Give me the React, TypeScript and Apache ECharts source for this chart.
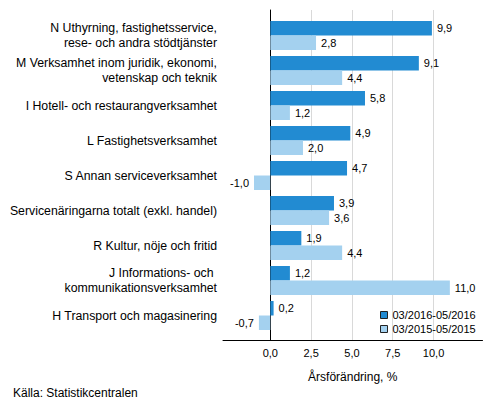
import { useEffect, useRef } from 'react';
import * as echarts from 'echarts';

const categories = [
  'N Uthyrning, fastighetsservice,\nrese- och andra stödtjänster',
  'M Verksamhet inom juridik, ekonomi,\nvetenskap och teknik',
  'I Hotell- och restaurangverksamhet',
  'L Fastighetsverksamhet',
  'S Annan serviceverksamhet',
  'Servicenäringarna totalt (exkl. handel)',
  'R Kultur, nöje och fritid',
  'J Informations- och \nkommunikationsverksamhet',
  'H Transport och magasinering',
];

const seriesNames = ['03/2016-05/2016', '03/2015-05/2015'];
const values2016 = [9.9, 9.1, 5.8, 4.9, 4.7, 3.9, 1.9, 1.2, 0.2];
const values2015 = [2.8, 4.4, 1.2, 2.0, -1.0, 3.6, 4.4, 11.0, -0.7];
const tickValues = [0, 2.5, 5, 7.5, 10];

const FONT = '"Liberation Sans", Arial, sans-serif';
const fmt = (v: number) => v.toFixed(1).replace('.', ',');

function barData(values: number[]) {
  return values.map(v => ({
    value: v,
    label: { position: v < 0 ? 'left' : 'right' }
  }));
}

export default function App() {
  const chartRef = useRef<HTMLDivElement>(null);

  useEffect(() => {
    if (!chartRef.current) return;
    const chart = echarts.init(chartRef.current, null, { renderer: 'svg' });

    const barLabel = {
      show: true,
      fontSize: 11,
      fontFamily: FONT,
      color: '#000',
      distance: 5,
      formatter: (p: any) => fmt(p.value)
    };

    chart.setOption({
      animation: false,
      textStyle: { fontFamily: FONT },
      title: {
        text: 'Källa: Statistikcentralen',
        left: 13,
        top: 387,
        padding: 0,
        textStyle: { fontSize: 12, fontWeight: 'normal', color: '#000', fontFamily: FONT }
      },
      legend: {
        orient: 'vertical',
        left: 380,
        top: 308,
        padding: 0,
        itemWidth: 7,
        itemHeight: 7,
        itemGap: 0,
        icon: 'rect',
        itemStyle: { borderColor: '#222', borderWidth: 1 },
        textStyle: { fontSize: 11, color: '#000', lineHeight: 14, fontFamily: FONT },
        data: seriesNames
      },
      grid: [
        { left: 223, width: 259.5, top: 18, height: 315 },
        { left: 223, width: 259.5, top: 10, height: 330.5 }
      ],
      xAxis: [
        {
          gridIndex: 0,
          type: 'value',
          min: -2.9,
          max: 13.0,
          show: false
        },
        {
          gridIndex: 1,
          type: 'value',
          min: -2.9,
          max: 13.0,
          name: 'Årsförändring, %',
          nameLocation: 'middle',
          nameGap: 30,
          nameTextStyle: { fontSize: 12, color: '#000', fontFamily: FONT },
          axisLine: { show: true, lineStyle: { color: '#000', width: 1 } },
          axisTick: { show: false, customValues: tickValues },
          axisLabel: {
            customValues: tickValues,
            fontSize: 11,
            color: '#000',
            margin: 7,
            formatter: (v: number) => fmt(v)
          },
          splitLine: { show: true, lineStyle: { color: '#d9d9d9', width: 1 } }
        }
      ],
      yAxis: [
        {
          gridIndex: 0,
          type: 'category',
          inverse: true,
          data: categories,
          axisLine: { show: false, onZero: false },
          axisTick: { show: false },
          axisLabel: {
            fontSize: 12.3,
            lineHeight: 15,
            color: '#000',
            margin: 6,
            align: 'right'
          }
        },
        {
          gridIndex: 1,
          type: 'category',
          data: [''],
          axisLine: { show: true, onZero: true, lineStyle: { color: '#000', width: 1 } },
          axisTick: { show: false },
          axisLabel: { show: false },
          splitLine: { show: false }
        }
      ],
      series: [
        {
          name: seriesNames[0],
          type: 'bar',
          xAxisIndex: 0,
          yAxisIndex: 0,
          data: barData(values2016),
          barGap: '0%',
          barCategoryGap: '17%',
          itemStyle: { color: '#228bd2' },
          label: barLabel
        },
        {
          name: seriesNames[1],
          type: 'bar',
          xAxisIndex: 0,
          yAxisIndex: 0,
          data: barData(values2015),
          barGap: '0%',
          barCategoryGap: '17%',
          itemStyle: { color: '#a4d1ef' },
          label: barLabel
        }
      ]
    });

    return () => {
      chart.dispose();
    };
  }, []);

  return (
    <div
      ref={chartRef}
      style={{ position: 'absolute', left: 0, top: 0, width: '493px', height: '416px' }}
    />
  );
}
